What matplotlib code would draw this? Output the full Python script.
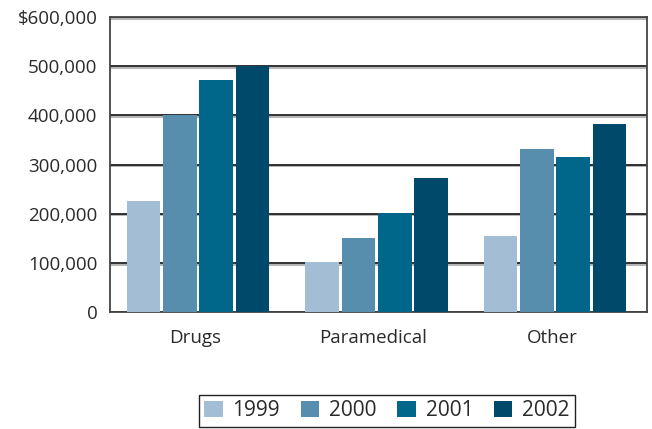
import matplotlib
matplotlib.use('Agg')
import matplotlib.pyplot as plt
import matplotlib.patheffects as pe
import matplotlib.transforms as mtransforms
import numpy as np
from matplotlib.ticker import FuncFormatter

categories = ['Drugs', 'Paramedical', 'Other']
years = ['1999', '2000', '2001', '2002']
values = {
    '1999': [225000, 102000, 154000],
    '2000': [400000, 150000, 331000],
    '2001': [471000, 201000, 315000],
    '2002': [500000, 272000, 382000],
}
colors = ['#a3bed4', '#578ead', '#00678a', '#00496b']

plt.rcParams['font.family'] = ['Open Sans', 'DejaVu Sans']

fig = plt.figure(figsize=(6.52, 4.29), dpi=100)
ax = fig.add_axes([0.1687, 0.2727, 0.8236, 0.6876])

x = np.arange(len(categories))
width = 0.188
pitch = 0.204
for i, yr in enumerate(years):
    offs = (i - 1.5) * pitch
    ax.bar(x + offs, values[yr], width, color=colors[i], label=yr, zorder=3)

ax.set_xlim(-0.493, 2.515)
ax.set_ylim(0, 600000)
ax.set_yticks(np.arange(0, 600001, 100000))
ax.yaxis.set_major_formatter(FuncFormatter(
    lambda v, p: '$' + format(int(v), ',') if v == 600000 else ('0' if v == 0 else format(int(v), ','))))
ax.set_xticks(x)
ax.set_xticklabels(categories)
ax.tick_params(axis='both', length=0, labelsize=13.5, colors='#2a2a2a')
ax.tick_params(axis='x', pad=12)
ax.tick_params(axis='y', pad=9)

# nudge category labels a little to the left
shift = mtransforms.ScaledTranslation(-3 / 100, 0, fig.dpi_scale_trans)
for lbl in ax.get_xticklabels():
    lbl.set_transform(lbl.get_transform() + shift)

ax.yaxis.grid(True, color='#222222', linewidth=1.3, zorder=1,
              path_effects=[pe.SimpleLineShadow(offset=(0, -1.2), shadow_color='#999999', alpha=0.8),
                            pe.Normal()])
ax.set_axisbelow(True)
for s in ax.spines.values():
    s.set_color('#444444')
    s.set_linewidth(1.3)

fig.legend(loc='upper center', bbox_to_anchor=(0.5936, 0.0804), ncol=4,
           frameon=True, fancybox=False, edgecolor='#222222', framealpha=1,
           fontsize=15, handlelength=0.87, handleheight=0.77,
           handletextpad=0.48, columnspacing=1.0, borderpad=0.28,
           borderaxespad=0, labelcolor='#2a2a2a')

plt.savefig('out.png', dpi=100)
